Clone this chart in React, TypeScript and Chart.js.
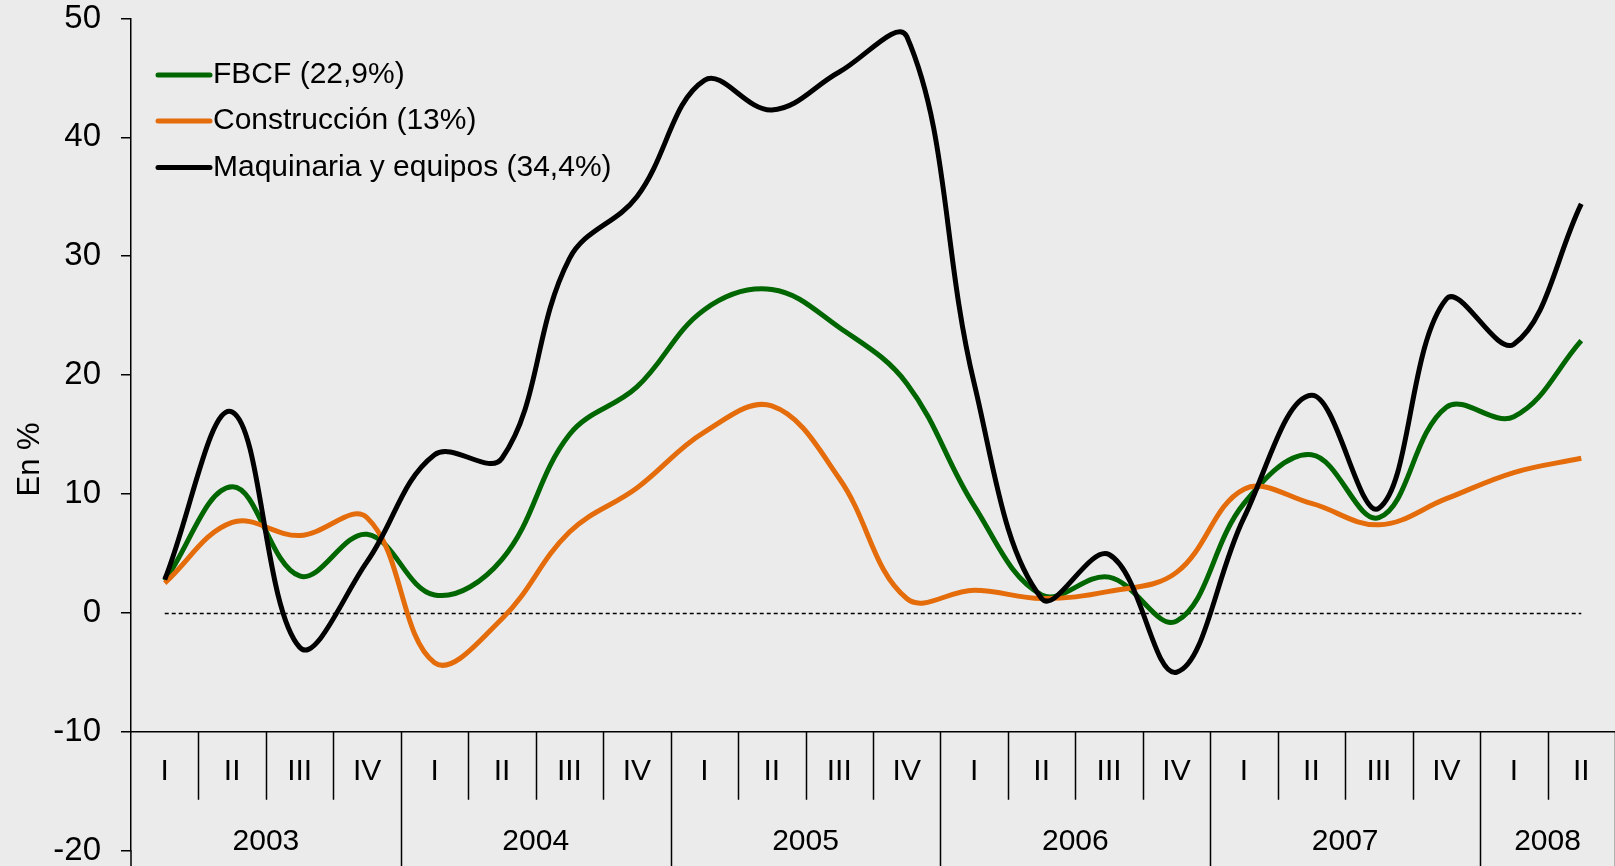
import React, { useEffect, useRef } from 'react';
import { Chart, registerables } from 'chart.js';

Chart.register(...registerables);

// ---- data ----
const years = ['2003', '2004', '2005', '2006', '2007', '2008'];
const quartersPerYear = [4, 4, 4, 4, 4, 2];
const quarterNames = ['I', 'II', 'III', 'IV'];
const quarterLabels: string[] = [];
quartersPerYear.forEach((n) => {
  for (let i = 0; i < n; i++) quarterLabels.push(quarterNames[i]);
});
const categories: string[] = [];
years.forEach((yr, k) => {
  for (let i = 0; i < quartersPerYear[k]; i++) categories.push(yr + ' ' + quarterNames[i]);
});

const fbcf = [2.7, 10.6, 3.1, 6.6, 1.5, 4.5, 15.0, 19.0, 25.5, 27.2, 24.0, 19.3, 9.0, 1.5, 3.0, -0.7, 9.2, 13.3, 8.0, 17.3, 16.5, 22.9];
const construccion = [2.5, 7.6, 6.5, 8.0, -4.2, -0.5, 6.8, 10.5, 15.2, 17.4, 11.3, 1.2, 1.9, 1.2, 1.8, 3.4, 10.4, 9.2, 7.4, 9.6, 11.8, 13.0];
const maquinaria = [2.8, 16.9, -2.9, 4.3, 13.3, 13.0, 29.8, 35.0, 44.8, 42.3, 45.5, 48.5, 19.3, 1.2, 4.9, -5.0, 8.0, 18.3, 8.8, 26.4, 22.6, 34.4];

const seriesNames = ['FBCF (22,9%)', 'Construcción (13%)', 'Maquinaria y equipos (34,4%)'];
const seriesColors = ['#006600', '#E46C0A', '#000000'];

const yMin = -20;
const yMax = 50;
const yStep = 10;
const axisLevel = -10;
const yTitle = 'En %';

const FONT = '"Liberation Sans", Arial, sans-serif';
const BG = '#EBEBEB';

const bottomPlugin = {
  id: 'bottomTable',
  beforeDatasetsDraw(chart: any) {
    const { ctx, scales } = chart;
    const x = scales.x;
    const y = scales.y;
    const y0 = Math.round(y.getPixelForValue(0)) + 0.5;
    ctx.save();
    ctx.strokeStyle = '#000';
    ctx.lineWidth = 1.6;
    ctx.setLineDash([4, 3]);
    ctx.beginPath();
    ctx.moveTo(x.getPixelForValue(0), y0);
    ctx.lineTo(x.getPixelForValue(categories.length - 1), y0);
    ctx.stroke();
    ctx.restore();
  },
  afterDraw(chart: any) {
    const { ctx, scales, chartArea } = chart;
    const x = scales.x;
    const y = scales.y;
    const n = categories.length;
    const w = (x.getPixelForValue(n - 1) - x.getPixelForValue(0)) / (n - 1);
    const left = x.getPixelForValue(0) - w / 2;
    const ya = y.getPixelForValue(axisLevel);
    const yearStarts = new Set<number>();
    let idx = 0;
    quartersPerYear.forEach((s) => {
      yearStarts.add(idx);
      idx += s;
    });
    ctx.save();
    ctx.strokeStyle = '#000';
    ctx.lineWidth = 1.5;
    ctx.beginPath();
    ctx.moveTo(chartArea.left, ya);
    ctx.lineTo(chartArea.right, ya);
    for (let i = 1; i <= n; i++) {
      const bx = Math.round(left + i * w) + 0.5;
      ctx.moveTo(bx, ya);
      ctx.lineTo(bx, yearStarts.has(i) || i === n ? chart.height : ya + 68);
    }
    ctx.moveTo(chartArea.left, chartArea.bottom);
    ctx.lineTo(chartArea.left, chart.height);
    ctx.stroke();

    ctx.fillStyle = '#000';
    ctx.font = '30px ' + FONT;
    ctx.textAlign = 'center';
    ctx.textBaseline = 'middle';
    quarterLabels.forEach((q, i) => ctx.fillText(q, x.getPixelForValue(i), ya + 40));
    idx = 0;
    years.forEach((yr, k) => {
      const s = quartersPerYear[k];
      ctx.fillText(yr, left + (idx + s / 2) * w, ya + 110);
      idx += s;
    });

    // y title
    ctx.save();
    ctx.font = '31px ' + FONT;
    ctx.translate(30, (chartArea.top + chartArea.bottom) / 2 + 25);
    ctx.rotate(-Math.PI / 2);
    ctx.fillText(yTitle, 0, 0);
    ctx.restore();

    // legend
    const lx0 = 158;
    const lx1 = 210;
    const rows = [75, 121, 167.5];
    seriesNames.forEach((name, i) => {
      ctx.strokeStyle = seriesColors[i];
      ctx.lineWidth = 5;
      ctx.lineCap = 'round';
      ctx.beginPath();
      ctx.moveTo(lx0, rows[i]);
      ctx.lineTo(lx1, rows[i]);
      ctx.stroke();
      ctx.textAlign = 'left';
      ctx.fillStyle = '#000';
      ctx.fillText(name, 213, rows[i]);
    });
    ctx.restore();
  },
};

export default function App() {
  const ref = useRef<HTMLCanvasElement>(null);
  useEffect(() => {
    document.body.style.margin = '0';
    document.body.style.overflow = 'hidden';
    document.body.style.background = BG;
    const canvas = ref.current!;
    const mk = (data: number[], i: number) => ({
      label: seriesNames[i],
      data,
      borderColor: seriesColors[i],
      backgroundColor: seriesColors[i],
      borderWidth: 5,
      pointRadius: 0,
      tension: 0.38,
      fill: false,
      order: 3 - i,
    });
    const chart = new Chart(canvas, {
      type: 'line',
      data: {
        labels: categories,
        datasets: [mk(fbcf, 0), mk(construccion, 1), mk(maquinaria, 2)],
      },
      options: {
        animation: false,
        responsive: false,
        devicePixelRatio: 1,
        layout: { padding: { top: 18.5, bottom: 15.5, left: 0, right: 0 } },
        plugins: { legend: { display: false }, tooltip: { enabled: false } },
        scales: {
          x: { type: 'category', offset: true, display: false },
          y: {
            min: yMin,
            max: yMax,
            ticks: {
              stepSize: yStep,
              color: '#000',
              padding: 20,
              font: { family: FONT, size: 33, lineHeight: 1 },
            },
            grid: {
              drawOnChartArea: false,
              drawTicks: true,
              tickLength: 10,
              color: '#000',
              lineWidth: 1.5,
            },
            border: { display: true, color: '#000', width: 1.5 },
            afterFit: (scale: any) => {
              scale.width = 131;
              scale.paddingTop = 0;
              scale.paddingBottom = 0;
            },
          },
        },
      },
      plugins: [bottomPlugin],
    });
    return () => chart.destroy();
  }, []);
  return (
    <div style={{ width: 1615, height: 866, background: BG }}>
      <canvas ref={ref} width={1615} height={866} style={{ display: 'block', background: BG }} />
    </div>
  );
}
